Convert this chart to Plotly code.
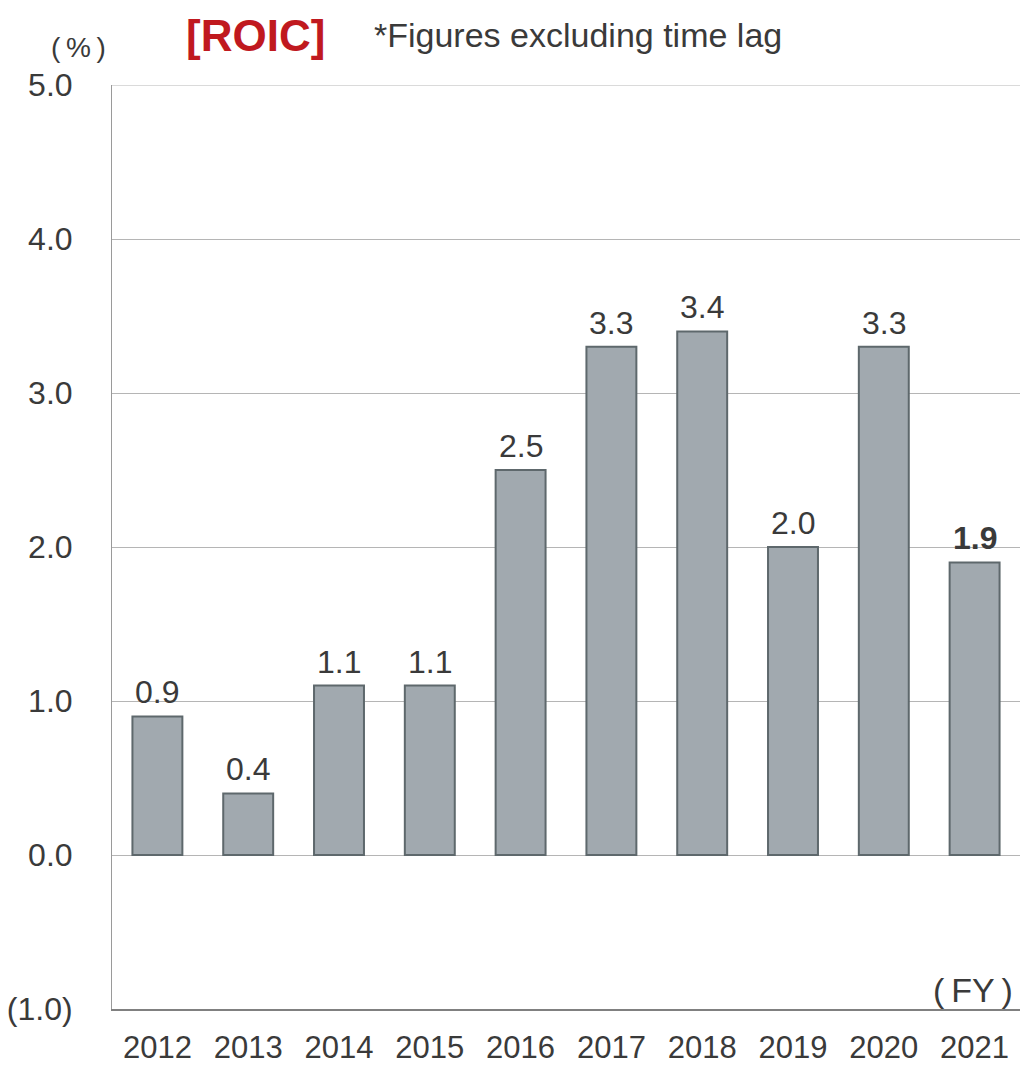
import plotly.graph_objects as go

# Fiscal years and ROIC (%)
years = ["2012", "2013", "2014", "2015", "2016", "2017", "2018", "2019", "2020", "2021"]
roic = [0.9, 0.4, 1.1, 1.1, 2.5, 3.3, 3.4, 2.0, 3.3, 1.9]
bold_label = [False] * 9 + [True]

y_ticks = [-1, 0, 1, 2, 3, 4, 5]
y_tick_text = ["(1.0)", "0.0", "1.0", "2.0", "3.0", "4.0", "5.0"]

TEXT = "#3a3a3a"
FONT = "Liberation Sans, Arial, sans-serif"

fig = go.Figure()
fig.add_trace(go.Bar(
    x=years,
    y=roic,
    marker=dict(color="#a1a9af", line=dict(color="#5e686c", width=2)),
    hoverinfo="x+y",
))

# value labels above each bar (category index positions)
for i, (v, b) in enumerate(zip(roic, bold_label)):
    txt = f"{v:.1f}"
    fig.add_annotation(
        x=i, y=v, text=f"<b>{txt}</b>" if b else txt,
        showarrow=False, yanchor="bottom", yshift=4,
        font=dict(size=32, color=TEXT, family=FONT),
    )

# headings and unit labels
fig.add_annotation(
    xref="paper", yref="paper", x=0.1575, y=1.054, xanchor="center", yanchor="middle",
    text="<b>[ROIC]</b>", showarrow=False,
    font=dict(size=44, color="#c0191f", family=FONT),
)
fig.add_annotation(
    xref="paper", yref="paper", x=0.286, y=1.054, xanchor="left", yanchor="middle",
    text="*Figures excluding time lag", showarrow=False,
    font=dict(size=34, color=TEXT, family=FONT),
)
fig.add_annotation(
    xref="paper", yref="paper", x=-0.004, y=1.041, xanchor="right", yanchor="middle",
    text="(\u2009%\u2009)", showarrow=False,
    font=dict(size=28, color=TEXT, family=FONT),
)
fig.add_annotation(
    xref="paper", yref="paper", x=0.994, y=0.0, xanchor="right", yanchor="bottom",
    text="(\u2009FY\u2009)", showarrow=False, yshift=-2,
    font=dict(size=34, color=TEXT, family=FONT),
)

fig.update_layout(
    width=1020, height=1065,
    margin=dict(l=112, r=0, t=85, b=56),
    paper_bgcolor="white", plot_bgcolor="white",
    bargap=0.45,
    showlegend=False,
    font=dict(family=FONT, color=TEXT),
)
fig.update_xaxes(
    type="category", range=[-0.5, len(years) - 0.5], automargin=False,
    showline=True, linecolor="#808080", linewidth=1.5,
    showgrid=False, ticks="", ticklabelstandoff=10,
    tickfont=dict(size=31, color=TEXT, family=FONT),
)
fig.update_yaxes(
    range=[-1, 5], tickvals=y_ticks, ticktext=y_tick_text, automargin=False,
    showline=True, linecolor="#9a9a9a", linewidth=1,
    showgrid=True, gridcolor="#b5b5b5", gridwidth=1,
    zeroline=False, ticks="", ticklabelstandoff=32,
    tickfont=dict(size=32, color=TEXT, family=FONT),
)

# top boundary line at 5.0
fig.add_shape(type="line", xref="paper", yref="y", x0=0, x1=1, y0=5, y1=5,
              line=dict(color="#b5b5b5", width=1))

fig.write_html("out.html")
